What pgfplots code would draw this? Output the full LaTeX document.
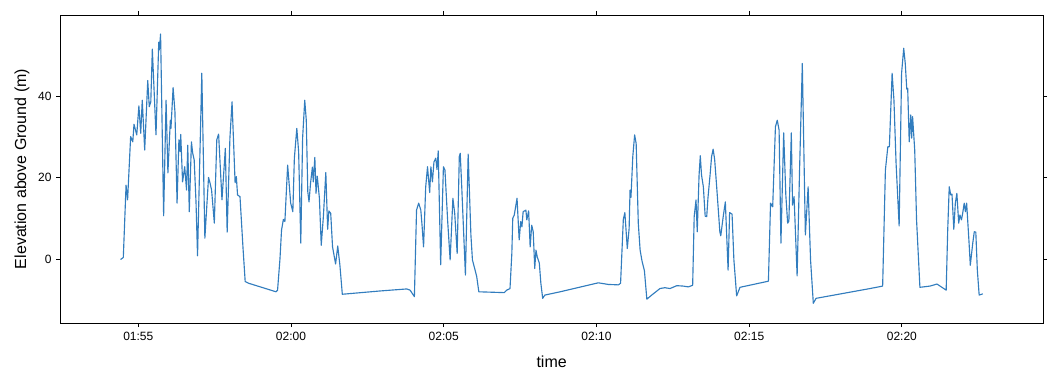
\documentclass[border=0pt]{standalone}
\usepackage{pgfplots}
\pgfplotsset{compat=1.18}
\usepackage{fontspec}
\setmainfont{Liberation Sans}
\definecolor{lineblue}{RGB}{50,125,190}
\begin{document}
\begin{tikzpicture}
\begin{axis}[
  name=main, at={(0,0)}, anchor=south west,
  scale only axis, width=737pt, height=231pt,
  xmin=112.446, xmax=144.62, ymin=-15.54, ymax=59.85,
  axis line style={black, line width=0.6pt},
  tick align=outside, xtick pos=both, ytick pos=both,
  xticklabel pos=bottom, yticklabel pos=left,
  major tick length=3pt, tick style={black, line width=0.6pt},
  xtick={115,120,125,130,135,140},
  xticklabels={01:55,02:00,02:05,02:10,02:15,02:20},
  ytick={0,20,40},
  /pgf/number format/assume math mode=true,
  tick label style={font=\fontsize{9}{10}\selectfont},
  every axis x label/.style={at={(axis description cs:0.5,-0.1257)}, anchor=center, font=\fontsize{12}{14}\selectfont},
  every axis y label/.style={at={(axis description cs:-0.039,0.5)}, anchor=center, rotate=90, font=\fontsize{12}{14}\selectfont},
  xlabel={time}, ylabel={Elevation above Ground (m)},
  clip=true,
]
\addplot[lineblue, line width=0.85pt, line join=round, mark=none] table {
x y
114.42 0.0
114.51 0.5
114.60 18.2
114.65 14.6
114.75 30.1
114.82 28.8
114.86 33.1
114.95 30.5
115.02 37.6
115.08 30.9
115.13 39.0
115.21 26.8
115.31 43.8
115.36 37.4
115.41 38.6
115.46 51.5
115.58 30.5
115.67 53.2
115.69 51.3
115.73 55.2
115.83 10.7
115.91 39.0
115.97 21.2
116.05 34.1
116.07 32.1
116.14 42.1
116.20 36.2
116.27 13.8
116.33 29.3
116.37 26.4
116.39 30.6
116.45 19.0
116.52 22.7
116.58 17.0
116.62 28.0
116.67 11.7
116.74 28.8
116.78 26.1
116.83 24.4
116.89 14.1
116.94 0.9
117.08 45.6
117.18 5.2
117.30 20.1
117.35 18.7
117.40 17.0
117.49 8.9
117.57 29.3
117.63 30.7
117.74 14.6
117.85 27.2
117.91 6.7
118.00 29.7
118.07 38.6
118.17 18.8
118.21 20.3
118.25 15.8
118.33 15.4
118.43 2.7
118.50 -5.4
118.61 -5.8
119.51 -7.9
119.56 -7.5
119.64 0.3
119.69 7.2
119.75 9.8
119.80 9.3
119.89 23.1
119.99 13.8
120.06 11.7
120.11 24.8
120.19 32.1
120.25 26.4
120.32 4.0
120.38 29.7
120.45 39.0
120.50 34.1
120.55 16.6
120.59 14.1
120.64 18.7
120.70 22.6
120.73 19.0
120.78 25.0
120.82 16.2
120.86 20.4
120.93 15.0
120.99 3.5
121.06 10.5
121.14 21.3
121.20 7.4
121.24 11.9
121.30 11.3
121.36 3.1
121.46 -1.1
121.53 3.3
121.60 -1.3
121.68 -8.5
122.91 -7.7
123.79 -7.2
123.90 -7.5
124.04 -9.1
124.11 12.1
124.18 13.8
124.25 12.1
124.29 8.4
124.34 3.1
124.41 17.8
124.47 22.7
124.54 16.4
124.58 22.7
124.63 19.0
124.68 23.9
124.74 24.8
124.78 22.0
124.82 26.6
124.90 -1.3
124.99 22.7
125.04 21.9
125.13 9.3
125.21 -0.1
125.30 15.0
125.36 11.3
125.44 1.5
125.51 25.2
125.54 26.0
125.59 17.8
125.71 -3.8
125.80 25.8
125.89 6.0
125.94 -0.1
126.02 -2.4
126.08 -4.2
126.15 -7.9
126.98 -8.1
127.06 -7.5
127.17 -7.1
127.23 1.5
127.26 10.1
127.31 10.9
127.40 15.0
127.47 4.8
127.52 9.3
127.56 8.0
127.60 11.7
127.69 12.1
127.72 9.7
127.78 11.9
127.83 3.1
127.88 8.4
127.93 6.8
127.98 -2.2
128.02 2.3
128.06 0.7
128.13 -0.9
128.18 -5.8
128.24 -9.5
128.31 -8.7
128.81 -7.9
130.06 -5.7
130.39 -6.1
130.72 -6.2
130.79 -5.8
130.88 9.8
130.93 11.5
131.01 2.7
131.07 7.6
131.10 17.0
131.13 15.2
131.19 25.2
131.25 30.5
131.30 28.4
131.37 8.9
131.43 2.3
131.49 -0.3
131.57 -2.7
131.65 -9.7
131.81 -8.7
132.08 -7.1
132.24 -6.9
132.41 -7.1
132.63 -6.4
132.84 -6.5
133.01 -6.7
133.15 -6.3
133.20 10.5
133.26 14.6
133.30 6.8
133.36 20.7
133.40 25.4
133.44 20.7
133.50 17.8
133.56 10.6
133.61 10.5
133.65 15.0
133.72 20.7
133.77 25.2
133.82 27.0
133.87 24.5
133.94 17.4
134.04 6.8
134.07 5.8
134.15 10.5
134.22 14.1
134.31 -2.6
134.36 11.5
134.44 11.1
134.50 -0.1
134.59 -8.9
134.70 -6.8
135.57 -5.4
135.63 -5.3
135.70 13.8
135.77 12.9
135.86 32.5
135.92 34.1
135.98 31.7
136.04 4.0
136.13 31.0
136.20 15.8
136.26 8.9
136.30 9.4
136.38 31.0
136.42 13.3
136.47 15.4
136.57 -4.0
136.65 21.9
136.74 48.0
136.84 6.0
136.93 17.8
137.01 -0.1
137.10 -10.7
137.19 -9.5
138.96 -7.1
139.37 -6.5
139.46 21.9
139.54 27.6
139.59 27.6
139.68 45.6
139.74 39.0
139.81 23.5
139.91 8.2
139.99 45.6
140.06 51.7
140.11 48.0
140.16 41.7
140.19 41.9
140.24 28.8
140.29 35.4
140.32 29.7
140.35 35.0
140.42 26.8
140.48 9.7
140.59 -6.8
140.92 -6.5
141.15 -6.0
141.45 -7.5
141.50 7.2
141.55 17.8
141.60 15.8
141.64 16.0
141.70 7.4
141.75 13.8
141.80 16.2
141.86 8.9
141.90 10.9
141.95 9.7
141.99 11.3
142.04 13.8
142.08 11.7
142.12 13.8
142.20 4.0
142.24 -1.4
142.32 4.0
142.37 6.8
142.42 6.7
142.47 -2.6
142.53 -8.7
142.65 -8.4
};
\end{axis}
\pgfresetboundingbox
\path (-45.2pt,-45.75pt) rectangle (752pt,242.25pt);
\end{tikzpicture}
\end{document}
